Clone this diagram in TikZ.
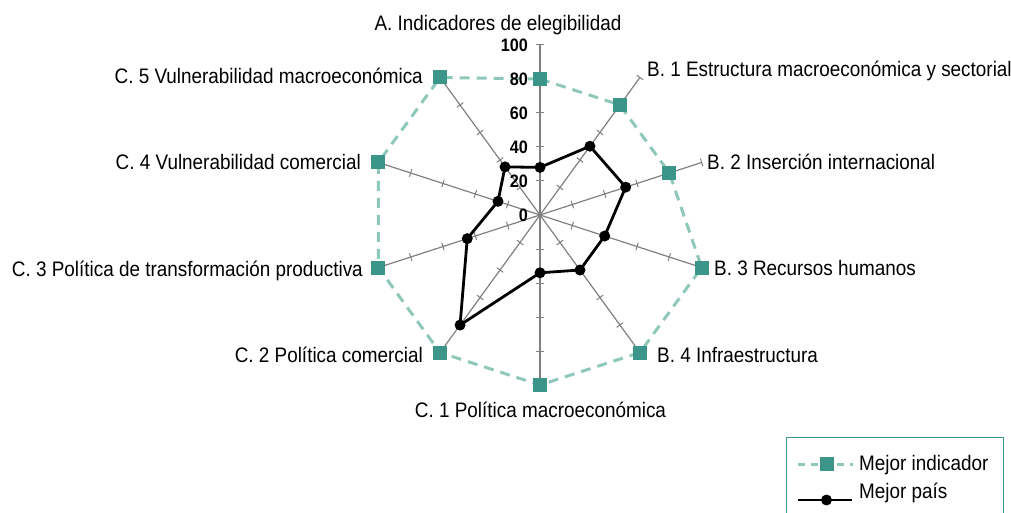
\documentclass[tikz,border=0pt]{standalone}
\usepackage{fontspec}
\setmainfont{Liberation Sans}[FakeStretch=0.9]
\usetikzlibrary{calc}
\definecolor{tealdark}{RGB}{59,149,136}
\definecolor{teallight}{RGB}{143,200,187}
\definecolor{axisgray}{RGB}{128,128,128}
\begin{document}
\begin{tikzpicture}[x=1pt,y=1pt,
  lbl/.style={font=\fontsize{21}{25}\selectfont, inner sep=0pt},
  num/.style={font=\fontsize{18}{21}\selectfont\bfseries, inner sep=0pt, anchor=east},
  axisline/.style={draw=axisgray, line width=1.2pt},
  ticks/.style={draw=axisgray, line width=1pt},
  sqmark/.style={rectangle, fill=tealdark, minimum size=14pt, inner sep=0pt},
  dotmark/.style={circle, fill=black, minimum size=11pt, inner sep=0pt},
  bestline/.style={draw=teallight, line width=3pt, dash pattern=on 10pt off 7pt},
  countryline/.style={draw=black, line width=2.8pt, line join=round},
]
\useasboundingbox (0,0) rectangle (1011,-513);
\coordinate (O) at (540,-215);
% axes with ticks
\foreach \i in {0,...,9} {
  \pgfmathsetmacro\ang{90-36*\i}
  \coordinate (e\i) at ($(O)+(\ang:170)$);
  \draw[axisline] (O) -- (e\i);
  \begin{scope}[shift={(O)}, rotate=\ang]
    \foreach \t in {20,40,60,80,100} {
      \draw[ticks] ({1.7*\t},-4) -- ({1.7*\t},4);
    }
  \end{scope}
}
% data coordinates
\foreach \v [count=\i from 0] in {80,80,80,100,100,100,100,100,100,100} {
  \pgfmathsetmacro\ang{90-36*\i}
  \coordinate (pb\i) at ($(O)+(\ang:{1.7*\v})$);
}
\foreach \v [count=\i from 0] in {28,50,53,40,40,34,80,45,26,35} {
  \pgfmathsetmacro\ang{90-36*\i}
  \coordinate (pc\i) at ($(O)+(\ang:{1.7*\v})$);
}
% best indicator polygon
\draw[bestline] (pb0) -- (pb1) -- (pb2) -- (pb3) -- (pb4) -- (pb5) -- (pb6) -- (pb7) -- (pb8) -- (pb9) -- cycle;
\foreach \i in {0,...,9} { \node[sqmark] (sb\i) at (pb\i) {}; }
% best country polygon
\draw[countryline] (pc0) -- (pc1) -- (pc2) -- (pc3) -- (pc4) -- (pc5) -- (pc6) -- (pc7) -- (pc8) -- (pc9) -- cycle;
\foreach \i in {0,...,9} { \node[dotmark] (dc\i) at (pc\i) {}; }
% scale numbers
\foreach \t in {0,20,40,60,80,100} { \node[num] (n\t) at (528,{-215+1.7*\t}) {\t}; }
% axis labels
\node[lbl, anchor=base] (lA) at (498,-31) {A. Indicadores de elegibilidad};
\node[lbl, anchor=base west] (lB1) at (647,-77) {B. 1 Estructura macroeconómica y sectorial};
\node[lbl, anchor=base west] (lB2) at (707,-170) {B. 2 Inserción internacional};
\node[lbl, anchor=base west] (lB3) at (714,-275) {B. 3 Recursos humanos};
\node[lbl, anchor=base west] (lB4) at (657,-362) {B. 4 Infraestructura};
\node[lbl, anchor=base] (lC1) at (540.5,-417) {C. 1 Política macroeconómica};
\node[lbl, anchor=base east] (lC2) at (423,-362) {C. 2 Política comercial};
\node[lbl, anchor=base east] (lC3) at (363,-276) {C. 3 Política de transformación productiva};
\node[lbl, anchor=base east] (lC4) at (361,-170) {C. 4 Vulnerabilidad comercial};
\node[lbl, anchor=base east] (lC5) at (423,-84) {C. 5 Vulnerabilidad macroeconómica};
% legend
\coordinate (bx1) at (786,-515);
\coordinate (bx2) at (786,-437);
\coordinate (bx3) at (1003,-437);
\coordinate (bx4) at (1003,-515);
\draw[draw=tealdark, line width=1pt] (bx1) -- (bx2) -- (bx3) -- (bx4);
\coordinate (lg1a) at (798,-464);
\coordinate (lg1b) at (853,-464);
\draw[bestline, dash pattern=on 7pt off 6pt] (lg1a) -- (lg1b);
\node[sqmark] (lgsq) at (826.5,-464) {};
\node[lbl, anchor=base west] (lgt1) at (859,-470) {Mejor indicador};
\coordinate (lg2a) at (798,-500);
\coordinate (lg2b) at (852,-500);
\draw[countryline] (lg2a) -- (lg2b);
\node[dotmark] (lgdot) at (826.5,-500) {};
\node[lbl, anchor=base west] (lgt2) at (859,-498) {Mejor país};
\end{tikzpicture}
\end{document}
